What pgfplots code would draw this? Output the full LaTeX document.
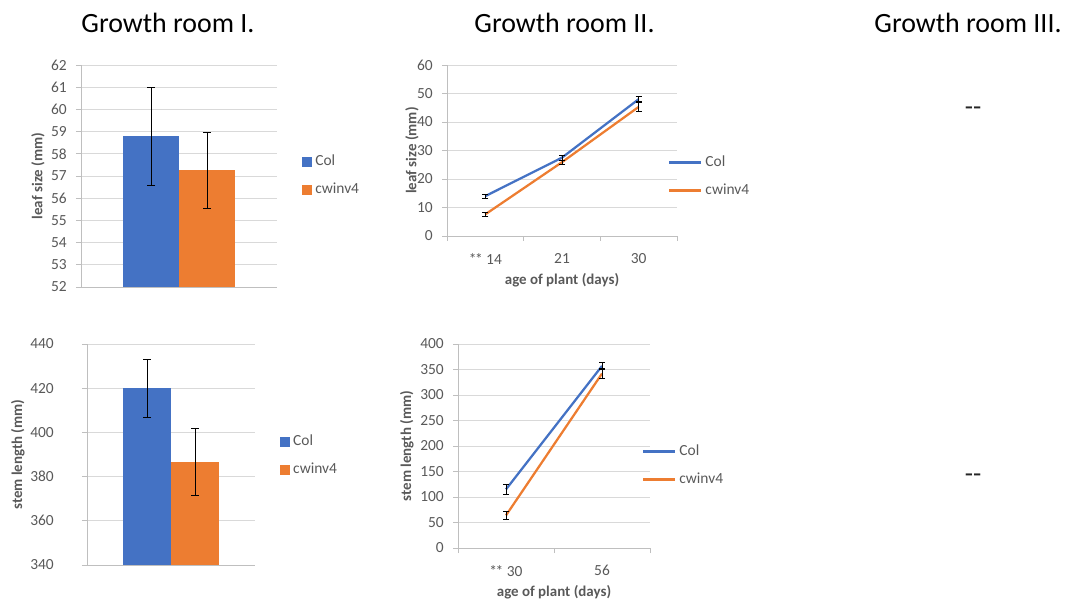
\documentclass[border=0pt]{standalone}
\usepackage{fontspec}
\setmainfont{Carlito}
\usepackage{pgfplots}
\pgfplotsset{compat=1.18}
\definecolor{cblue}{HTML}{4472C4}
\definecolor{corange}{HTML}{ED7D31}
\definecolor{gridgray}{HTML}{D9D9D9}
\definecolor{axgray}{HTML}{BFBFBF}
\definecolor{txtgray}{HTML}{595959}
\newcommand{\tickfont}{\fontsize{15.5}{18}\selectfont}
\newcommand{\labfont}{\fontsize{15}{18}\selectfont\bfseries}
\pgfplotsset{
  common/.style={
    scale only axis,
    axis x line*=bottom, axis y line*=left,
    axis line style={draw=axgray, line width=0.75bp, -},
    ymajorgrids, grid style={draw=gridgray, line width=0.75bp},
    major tick length=5bp,
    tick style={draw=axgray, line width=0.75bp},
    tick align=outside,
    tick label style={font=\tickfont, text=txtgray},
    yticklabel style={anchor=east, inner sep=0pt, xshift=-9bp},
    /pgf/number format/assume math mode=true,
    every axis y label/.style={rotate=90, anchor=center, font=\labfont, text=txtgray},
    every axis x label/.style={anchor=center, font=\labfont, text=txtgray},
    legend cell align=left,
    legend style={draw=none, fill=none, font=\tickfont, text=txtgray, inner sep=0pt, row sep=12bp,
      nodes={inner sep=1bp, text height=11bp, text depth=3bp},
      /tikz/every odd column/.append style={column sep=2bp}},
  },
  barchart/.style={common, ybar=0pt, xmin=0, xmax=1, xtick=\empty,
    legend image code/.code={\fill[##1] (0bp,-5bp) rectangle (10bp,5bp);}},
  linechart/.style={common, xmin=0, xmax=#1,
    xticklabels={},
    extra x tick style={major tick length=0pt, grid=none, xticklabel style={anchor=north, yshift=-14bp}},
    legend image code/.code={\draw[##1] (0bp,0bp) -- (32bp,0bp);}},
  barerr/.style={error bars/.cd, y dir=both, y explicit, error mark=|,
    error bar style={draw=black, line width=0.75bp},
    error mark options={draw=black, mark size=4bp, line width=0.75bp}},
  lineerr/.style={error bars/.cd, y dir=both, y explicit, error mark=|,
    error bar style={draw=black, line width=0.75bp},
    error mark options={draw=black, mark size=3bp, line width=0.75bp}},
}
\newcommand{\twoast}{*\kern-1.5bp*}
\begin{document}
\begin{tikzpicture}
\path[use as bounding box] (0,0) rectangle (1073bp,600bp);
% titles
\node[anchor=base, font=\fontsize{28}{32}\selectfont] at (168bp,567bp) {Growth room I.};
\node[anchor=base, font=\fontsize{28}{32}\selectfont] at (564.5bp,567bp) {Growth room II.};
\node[anchor=base, font=\fontsize{28}{32}\selectfont] at (968bp,567bp) {Growth room III.};
\node[anchor=base, text=black!85, font=\fontsize{27}{30}\selectfont] at (973bp,484bp) {-{}-};
\node[anchor=base, text=black!85, font=\fontsize{27}{30}\selectfont] at (973bp,117.5bp) {-{}-};

% chart 1: leaf size bar
\begin{axis}[barchart, at={(81bp,313bp)}, anchor=south west, width=196bp, height=222bp,
  bar width=56bp, ymin=52, ymax=62, ytick distance=1,
  ylabel={leaf size (mm)}, ylabel style={at={(axis description cs:-0.219,0.5)}},
  legend style={at={(1.128,0.5)}, anchor=west}]
\addplot[fill=cblue, draw=none, barerr] coordinates {(0.5,58.8) +- (0,2.2)};
\addplot[fill=corange, draw=none, barerr] coordinates {(0.5,57.25) +- (0,1.7)};
\legend{Col,cwinv4}
\end{axis}

% chart 2: leaf size line
\begin{axis}[linechart=3, at={(447bp,364bp)}, anchor=south west, width=230bp, height=171bp,
  xtick={0,1,2,3}, extra x ticks={0.5,1.5,2.5}, extra x tick labels={\twoast\ 14,21,30},
  ymin=0, ymax=60, ytick distance=10,
  ylabel={leaf size (mm)}, ylabel style={at={(axis description cs:-0.152,0.5)}},
  xlabel={age of plant (days)}, xlabel style={at={(axis description cs:0.5,-0.257)}},
  legend style={at={(0.961,0.348)}, anchor=west}]
\addplot[cblue, line width=2.25bp, mark=none, lineerr] coordinates {
  (0.5,14.0) +- (0,0.7) (1.5,27.5) +- (0,0.8) (2.5,48.0) +- (0,0.9)};
\addplot[corange, line width=2.25bp, mark=none, lineerr] coordinates {
  (0.5,7.6) +- (0,0.7) (1.5,25.9) +- (0,0.8) (2.5,45.3) +- (0,1.5)};
\legend{Col,cwinv4}
\end{axis}

% chart 3: stem length bar
\begin{axis}[barchart, at={(87bp,35bp)}, anchor=south west, width=168bp, height=221bp,
  bar width=48bp, ymin=340, ymax=440, ytick distance=20,
  yticklabel style={xshift=-19bp},
  ylabel={stem length (mm)}, ylabel style={at={(axis description cs:-0.411,0.5)}},
  legend style={at={(1.149,0.495)}, anchor=west}]
\addplot[fill=cblue, draw=none, barerr] coordinates {(0.5,420) +- (0,13.2)};
\addplot[fill=corange, draw=none, barerr] coordinates {(0.5,386.7) +- (0,15.3)};
\legend{Col,cwinv4}
\end{axis}

% chart 4: stem length line
\begin{axis}[linechart=2, at={(458bp,52bp)}, anchor=south west, width=192bp, height=204bp,
  xtick={0,1,2}, extra x ticks={0.5,1.5}, extra x tick labels={\twoast\ 30,56},
  ymin=0, ymax=400, ytick distance=50,
  ylabel={stem length (mm)}, ylabel style={at={(axis description cs:-0.266,0.5)}},
  xlabel={age of plant (days)}, xlabel style={at={(axis description cs:0.5,-0.216)}},
  legend style={at={(0.958,0.404)}, anchor=west}]
\addplot[cblue, line width=2.25bp, mark=none, lineerr] coordinates {
  (0.5,115) +- (0,9) (1.5,357) +- (0,6)};
\addplot[corange, line width=2.25bp, mark=none, lineerr] coordinates {
  (0.5,64) +- (0,7) (1.5,342) +- (0,10)};
\legend{Col,cwinv4}
\end{axis}
\end{tikzpicture}
\end{document}
